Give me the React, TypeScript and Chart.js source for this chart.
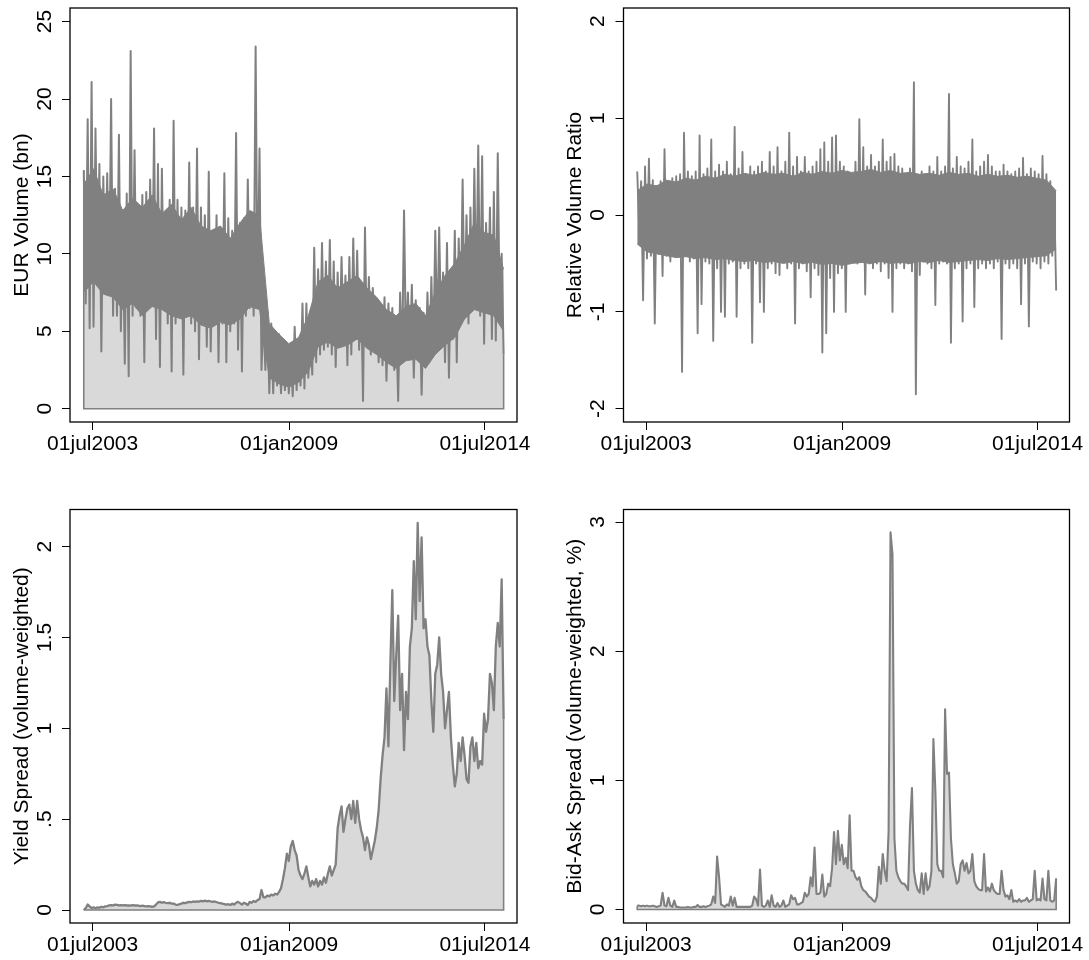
import React, { useEffect, useRef } from "react";
import { Chart, registerables } from "chart.js";

Chart.register(...registerables);

const FONT = "'Liberation Sans', Arial, Helvetica, sans-serif";

// ---- time axis ----
const SERIES_START = "2003-04-01";
const STEP_DAYS = 20;
const CORE_STEP_DAYS = 100;
const X_RANGE = ["2002-11-11", "2015-05-25"];
const X_TICK_DATES = ["2003-07-01", "2009-01-01", "2014-07-01"];
const X_TICK_LABELS = ["01jul2003", "01jan2009", "01jul2014"];

// ---- EUR Volume (bn): local highs / lows (every 40 days) ----
const volumeHigh = [
  15.4, 18.7, 21.1, 18.1, 15.8, 15.0, 15.2, 20.0, 14.2, 17.7,
  12.0, 13.9, 23.1, 16.7, 12.0, 13.8, 14.0, 14.8, 18.1, 15.8,
  15.5, 12.0, 13.5, 18.6, 13.5, 13.0, 12.8, 15.9, 13.0, 16.8,
  13.0, 12.5, 15.3, 11.0, 12.5, 11.0, 15.2, 12.3, 11.5, 17.8,
  12.0, 12.3, 14.8, 12.5, 23.4, 16.8,
  5.8, 6.3, 5.5, 5.0,
  4.8, 4.0, 3.8, 3.3, 5.3, 4.5, 6.8, 6.8, 5.5, 10.4,
  9.0, 10.7, 9.5, 10.9, 9.5, 8.8, 9.8, 8.6, 9.8, 11.0,
  10.2, 8.0, 11.7, 8.5, 7.8, 7.0, 6.5, 7.2, 6.8, 6.5,
  5.5, 7.5, 12.8, 7.5, 8.0, 7.0, 6.5, 6.2, 7.5, 8.5,
  11.5, 11.7, 8.8, 10.7, 9.0, 11.5, 11.0, 14.8, 12.5, 13.0,
  15.5, 17.0, 16.3, 12.0, 13.0, 14.0, 16.5, 10.0,
];
const volumeLow = [
  6.8, 5.2, 5.3, 8.0, 3.7, 8.2, 7.5, 6.0, 6.0, 5.0,
  2.9, 2.1, 6.0, 6.5, 6.0, 3.0, 6.5, 6.8, 4.5, 2.7,
  6.5, 5.5, 2.4, 5.5, 6.0, 2.2, 6.0, 5.5, 5.0, 3.2,
  6.0, 4.0, 3.7, 5.5, 3.0, 5.5, 3.0, 5.0, 5.5, 3.8,
  2.4, 6.0, 6.5, 6.0, 6.5, 2.5,
  2.5, 1.0, 1.0, 1.5,
  1.0, 1.2, 1.0, 0.8, 1.2, 1.5, 1.3, 2.0, 2.2, 3.0,
  3.5, 3.8, 4.0, 3.5, 2.7, 4.0, 4.5, 2.8, 3.5, 4.5,
  3.8, 0.5, 4.0, 3.5, 4.5, 3.0, 2.8, 1.8, 3.5, 2.5,
  0.5, 3.0, 4.0, 3.2, 2.0, 3.5, 0.9, 2.8, 3.0, 3.5,
  4.5, 5.0, 3.0, 2.0, 4.5, 3.0, 5.5, 6.0, 5.5, 6.5,
  7.0, 6.0, 4.2, 6.5, 4.5, 4.4, 6.0, 3.5,
];
// dense core of the daily EUR volume band (every 100 days)
const volumeCoreTop = [
  14.5, 15.5, 13.8, 14.2, 12.8, 13.6, 13.0, 13.8, 12.6, 13.2,
  12.2, 13.0, 11.8, 11.5, 11.8, 11.0, 12.0, 12.8, 12.5, 5.5,
  4.8, 4.2, 4.6, 6.0, 8.2, 8.6, 7.8, 8.2, 8.6, 7.8,
  7.2, 6.4, 6.0, 6.6, 6.8, 6.0, 7.5, 8.6, 9.4, 10.6,
  12.0, 11.4, 11.2, 9.0,
];
const volumeCoreBottom = [
  7.5, 8.2, 7.4, 7.2, 6.4, 6.8, 6.0, 6.6, 6.4, 6.0,
  5.8, 6.0, 5.4, 5.2, 5.6, 5.4, 5.8, 6.6, 6.4, 2.0,
  1.6, 1.4, 1.7, 2.4, 4.0, 4.3, 3.9, 4.1, 4.5, 3.9,
  3.5, 3.0, 2.6, 3.1, 3.2, 2.6, 3.5, 4.1, 4.6, 5.8,
  6.4, 6.2, 6.0, 5.0,
];

// ---- Relative Volume Ratio: local highs / lows (every 40 days) ----
const ratioHigh = [
  0.45, 0.35, 0.5, 0.58, 0.36, 0.3, 0.35, 0.68, 0.32, 0.38,
  0.4, 0.42, 0.85, 0.45, 0.4, 0.45, 0.82, 0.42, 0.48, 0.78,
  0.45, 0.52, 0.45, 0.55, 0.42, 0.91, 0.48, 0.65, 0.42, 0.5,
  0.45, 0.5, 0.55, 0.45, 0.65, 0.5, 0.7, 0.45, 0.55, 0.85,
  0.5, 0.6, 0.45, 0.6, 0.45, 0.5, 0.55, 0.68, 0.75, 0.55,
  0.8, 0.82, 0.55, 0.5, 0.45, 0.42, 0.55, 0.99, 0.7, 0.5,
  0.62, 0.5, 0.55, 0.78, 0.55, 0.6, 0.63, 0.5, 0.48, 0.42,
  0.48, 1.37, 0.4, 0.45, 0.42, 0.5, 0.45, 0.6, 0.45, 0.5,
  1.25, 0.48, 0.6, 0.5, 0.48, 0.55, 0.78, 0.45, 0.5, 0.55,
  0.62, 0.5, 0.45, 0.45, 0.52, 0.45, 0.42, 0.45, 0.48, 0.59,
  0.42, 0.48, 0.45, 0.42, 0.61, 0.42, 0.35, 0.2,
];
const ratioLow = [
  -0.15, -0.88, -0.45, -0.42, -1.12, -0.4, -0.63, -0.42, -0.48, -0.42,
  -0.4, -1.62, -0.42, -0.48, -0.45, -1.22, -0.92, -0.48, -0.5, -1.3,
  -0.55, -1.0, -1.05, -0.5, -0.48, -1.05, -0.55, -0.5, -0.55, -1.32,
  -0.5, -0.9, -1.0, -0.55, -0.5, -0.6, -0.62, -0.48, -0.55, -0.5,
  -1.12, -0.55, -0.5, -0.58, -0.85, -0.55, -0.62, -1.42, -1.22, -0.65,
  -1.0, -0.6, -0.55, -1.0, -0.5, -0.48, -0.5, -0.48, -0.82, -0.5,
  -0.55, -0.5, -0.58, -0.5, -0.65, -1.0, -0.55, -0.5, -0.55, -0.5,
  -0.58, -1.85, -0.62, -0.48, -0.5, -0.55, -0.93, -0.5, -0.48, -0.5,
  -1.32, -0.55, -0.5, -1.1, -0.55, -0.5, -0.95, -0.55, -0.5, -0.55,
  -0.5, -0.55, -0.48, -1.28, -0.5, -0.55, -0.5, -0.55, -0.92, -0.5,
  -1.15, -0.48, -0.5, -0.55, -0.48, -0.5, -0.42, -0.78,
];
// dense core of the daily ratio band (every 100 days)
const ratioCoreTop = [
  0.25, 0.32, 0.3, 0.36, 0.34, 0.38, 0.36, 0.4, 0.38, 0.42,
  0.4, 0.43, 0.41, 0.44, 0.42, 0.43, 0.4, 0.44, 0.42, 0.45,
  0.43, 0.46, 0.44, 0.45, 0.47, 0.44, 0.46, 0.43, 0.44, 0.42,
  0.43, 0.41, 0.44, 0.42, 0.43, 0.4, 0.42, 0.4, 0.41, 0.39,
  0.4, 0.38, 0.36, 0.25,
];
const ratioCoreBottom = [
  -0.3, -0.38, -0.4, -0.42, -0.44, -0.43, -0.45, -0.44, -0.46, -0.45,
  -0.47, -0.48, -0.47, -0.49, -0.48, -0.5, -0.48, -0.5, -0.49, -0.51,
  -0.5, -0.52, -0.5, -0.49, -0.5, -0.48, -0.5, -0.49, -0.5, -0.48,
  -0.49, -0.47, -0.49, -0.48, -0.47, -0.46, -0.47, -0.45, -0.46, -0.45,
  -0.44, -0.43, -0.42, -0.35,
];

// ---- Yield Spread (volume-weighted), every 20 days ----
const yieldSpread = [
  0.0, 0.01, 0.03, 0.02, 0.01, 0.015, 0.01, 0.015, 0.012, 0.018,
  0.015, 0.02, 0.022, 0.025, 0.027, 0.025, 0.03, 0.028, 0.025, 0.027,
  0.025, 0.027, 0.025, 0.026, 0.024, 0.027, 0.025, 0.026, 0.024, 0.022,
  0.024, 0.022, 0.02, 0.021, 0.02, 0.018, 0.02, 0.03, 0.042, 0.045,
  0.04, 0.043, 0.04, 0.038, 0.04, 0.035, 0.035, 0.03, 0.028, 0.032,
  0.035, 0.04, 0.038, 0.042, 0.045, 0.043, 0.047, 0.045, 0.048, 0.046,
  0.05, 0.048, 0.052, 0.048, 0.05, 0.047, 0.045, 0.047, 0.043, 0.04,
  0.038, 0.035, 0.033, 0.03, 0.032, 0.028, 0.035, 0.03, 0.04, 0.045,
  0.038, 0.03, 0.04, 0.035, 0.028, 0.045, 0.04, 0.05, 0.045, 0.055,
  0.06, 0.11, 0.07, 0.07, 0.08, 0.075, 0.085, 0.08, 0.09, 0.085,
  0.1, 0.12, 0.17, 0.23, 0.31, 0.27, 0.35, 0.38, 0.33, 0.3,
  0.22, 0.19, 0.17, 0.2, 0.24, 0.18, 0.13, 0.16, 0.14, 0.17,
  0.13, 0.16, 0.14, 0.18, 0.15, 0.2, 0.24, 0.19, 0.22, 0.25,
  0.45, 0.52, 0.57, 0.43, 0.5, 0.56, 0.58, 0.5, 0.6, 0.48,
  0.6, 0.5, 0.44, 0.4, 0.33, 0.4, 0.36, 0.28, 0.33, 0.38,
  0.45, 0.55, 0.72, 0.85, 0.95, 1.22, 0.9, 1.35, 1.76, 1.15,
  1.4, 1.62, 1.1, 1.3, 0.88, 1.2, 1.05, 1.45, 1.55, 1.92,
  1.6, 2.13, 1.7, 2.05, 1.55, 1.6, 1.45, 1.4, 1.15, 0.98,
  1.3, 1.35, 1.5, 1.3, 1.2, 1.0, 1.1, 1.2, 0.95, 0.8,
  0.68, 0.75, 0.92, 0.82, 0.95, 0.85, 0.72, 0.7, 0.9, 0.95,
  0.82, 0.92, 0.78, 0.82, 0.8, 1.08, 0.98, 1.05, 1.3, 1.25,
  1.1, 1.45, 1.58, 1.45, 1.82, 1.05,
];

// ---- Bid-Ask Spread (volume-weighted, %), every 20 days ----
const bidAsk = [
  0.03, 0.03, 0.025, 0.03, 0.025, 0.03, 0.025, 0.025, 0.03, 0.025,
  0.02, 0.025, 0.03, 0.13, 0.03, 0.025, 0.09, 0.03, 0.02, 0.07,
  0.02, 0.02, 0.015, 0.015, 0.015, 0.015, 0.02, 0.015, 0.015, 0.02,
  0.02, 0.035, 0.02, 0.02, 0.025, 0.02, 0.025, 0.03, 0.04, 0.1,
  0.05, 0.41, 0.25, 0.04, 0.03, 0.02, 0.04, 0.03, 0.1, 0.03,
  0.09, 0.02, 0.02, 0.02, 0.02, 0.02, 0.02, 0.02, 0.02, 0.03,
  0.1, 0.08, 0.03, 0.31, 0.03, 0.02, 0.03, 0.07, 0.02, 0.11,
  0.03, 0.02, 0.05, 0.02, 0.03, 0.07, 0.02, 0.03, 0.04, 0.11,
  0.08, 0.09, 0.04, 0.04, 0.05, 0.06, 0.13, 0.1, 0.12, 0.25,
  0.18, 0.48, 0.12, 0.12, 0.13, 0.27, 0.1, 0.12, 0.2, 0.18,
  0.32, 0.6, 0.35, 0.61, 0.38, 0.5, 0.35, 0.4, 0.32, 0.73,
  0.3, 0.3, 0.25, 0.23, 0.25, 0.18, 0.15, 0.14, 0.12, 0.1,
  0.09, 0.07, 0.06, 0.1, 0.33, 0.2, 0.43, 0.3, 0.22, 0.6,
  2.92, 2.75, 0.55, 0.3, 0.25, 0.22, 0.2, 0.2, 0.18, 0.15,
  0.65, 0.94, 0.3, 0.2, 0.15, 0.13, 0.28, 0.12, 0.28, 0.15,
  0.18, 0.3, 1.32, 0.92, 0.35, 0.3, 0.3, 0.25, 1.55, 1.05,
  1.06, 0.55, 0.35, 0.28, 0.2, 0.22, 0.35, 0.38, 0.3, 0.36,
  0.28, 0.3, 0.43, 0.22, 0.18, 0.16, 0.15, 0.15, 0.43, 0.14,
  0.17, 0.14, 0.2, 0.15, 0.13, 0.12, 0.12, 0.3, 0.15, 0.1,
  0.11, 0.08, 0.15, 0.06, 0.07, 0.06, 0.08, 0.06, 0.07, 0.07,
  0.09, 0.06, 0.07, 0.08, 0.3, 0.07, 0.08, 0.07, 0.24, 0.08,
  0.07, 0.3, 0.07, 0.06, 0.07, 0.24,
];

// ---- y-axis ticks ----
const volumeTicks = [0, 5, 10, 15, 20, 25];
const volumeTickLabels = ["0", "5", "10", "15", "20", "25"];
const ratioTicks = [-2, -1, 0, 1, 2];
const ratioTickLabels = ["-2", "-1", "0", "1", "2"];
const yieldTicks = [0, 0.5, 1, 1.5, 2];
const yieldTickLabels = ["0", ".5", "1", "1.5", "2"];
const bidAskTicks = [0, 1, 2, 3];
const bidAskTickLabels = ["0", "1", "2", "3"];

const dayOf = (iso: string) => Math.round(Date.parse(iso + "T00:00:00Z") / 86400000);
const zigzag = (hi: number[], lo: number[]) => hi.flatMap((h, k) => [h, lo[k]]);

type PanelCfg = {
  x: number; y: number; w: number; h: number;
  plot: { l: number; t: number; r: number; b: number };
  yMin: number; yMax: number;
  yTicks: number[]; yLabels: string[];
  title: string; values: number[]; filled: boolean; lineWidth: number;
  core?: { top: number[]; bottom: number[] };
};

const PANELS: PanelCfg[] = [
  {
    x: 0, y: 0, w: 545, h: 480, plot: { l: 70, t: 8, r: 517, b: 422 },
    yMin: -0.86, yMax: 25.88, yTicks: volumeTicks, yLabels: volumeTickLabels,
    title: "EUR Volume (bn)", values: zigzag(volumeHigh, volumeLow), filled: true, lineWidth: 2,
    core: { top: volumeCoreTop, bottom: volumeCoreBottom },
  },
  {
    x: 545, y: 0, w: 544, h: 480, plot: { l: 78.5, t: 8, r: 524.5, b: 422 },
    yMin: -2.137, yMax: 2.137, yTicks: ratioTicks, yLabels: ratioTickLabels,
    title: "Relative Volume Ratio", values: zigzag(ratioHigh, ratioLow), filled: false, lineWidth: 1.9,
    core: { top: ratioCoreTop, bottom: ratioCoreBottom },
  },
  {
    x: 0, y: 480, w: 545, h: 480, plot: { l: 70, t: 29.5, r: 517, b: 443 },
    yMin: -0.0714, yMax: 2.204, yTicks: yieldTicks, yLabels: yieldTickLabels,
    title: "Yield Spread (volume-weighted)", values: yieldSpread, filled: true, lineWidth: 2.3,
  },
  {
    x: 545, y: 480, w: 544, h: 480, plot: { l: 78.5, t: 29.5, r: 524.5, b: 443 },
    yMin: -0.1045, yMax: 3.097, yTicks: bidAskTicks, yLabels: bidAskTickLabels,
    title: "Bid-Ask Spread (volume-weighted, %)", values: bidAsk, filled: true, lineWidth: 2.1,
  },
];

const LINE = "#808080";
const FILL = "#d9d9d9";

function Panel({ cfg }: { cfg: PanelCfg }) {
  const ref = useRef<HTMLCanvasElement | null>(null);
  useEffect(() => {
    const canvas = ref.current;
    if (!canvas) return;
    const start = dayOf(SERIES_START);
    const days = cfg.values.map((_, i) => start + i * STEP_DAYS);
    const pts = cfg.values.map((v, i) => ({ x: days[i], y: v }));
    const n = pts.length;
    const datasets: any[] = [];
    // index 0: outline of the shaded area (drawn last, on top)
    if (cfg.filled) {
      datasets.push({
        data: [
          { x: days[0], y: cfg.values[0] },
          { x: days[0], y: 0 },
          { x: days[n - 1], y: 0 },
          { x: days[n - 1], y: cfg.values[n - 1] },
        ],
        borderColor: LINE, borderWidth: 1.6, pointRadius: 0, fill: false, tension: 0,
      });
    }
    // dense core of a daily band
    if (cfg.core) {
      const coreDays = cfg.core.top.map((_, j) => start + j * CORE_STEP_DAYS);
      datasets.push({
        data: cfg.core.top.map((v, j) => ({ x: coreDays[j], y: v })),
        borderColor: LINE, borderWidth: 1, pointRadius: 0, tension: 0,
        fill: "+1", backgroundColor: LINE,
      });
      datasets.push({
        data: cfg.core.bottom.map((v, j) => ({ x: coreDays[j], y: v })),
        borderColor: LINE, borderWidth: 1, pointRadius: 0, tension: 0, fill: false,
      });
    }
    // the series itself (drawn first)
    datasets.push({
      data: pts,
      borderColor: LINE,
      borderWidth: cfg.lineWidth,
      pointRadius: 0,
      tension: 0,
      borderJoinStyle: "round",
      fill: cfg.filled ? "origin" : false,
      backgroundColor: FILL,
    });

    const decor = {
      id: "decor",
      afterDatasetsDraw(chart: any) {
        const { ctx, chartArea: a } = chart;
        ctx.save();
        ctx.strokeStyle = "#000";
        ctx.lineWidth = 1.3;
        ctx.strokeRect(a.left, a.top, a.right - a.left, a.bottom - a.top);
        ctx.restore();
      },
      afterDraw(chart: any) {
        const { ctx, chartArea: a, scales } = chart;
        ctx.save();
        ctx.fillStyle = "#000";
        ctx.font = `21px ${FONT}`;
        ctx.textAlign = "center";
        ctx.textBaseline = "alphabetic";
        cfg.yTicks.forEach((v, i) => {
          const py = scales.y.getPixelForValue(v);
          ctx.save();
          ctx.translate(a.left - 19.3, py);
          ctx.rotate(-Math.PI / 2);
          ctx.fillText(cfg.yLabels[i], 0, 0);
          ctx.restore();
        });
        ctx.save();
        ctx.translate(a.left - 42.5, (a.top + a.bottom) / 2);
        ctx.rotate(-Math.PI / 2);
        ctx.fillText(cfg.title, 0, 0);
        ctx.restore();
        ctx.restore();
      },
    };

    const gridOpts = {
      display: true,
      drawOnChartArea: false,
      drawTicks: true,
      tickLength: 8,
      color: "#000",
      lineWidth: 1,
    };

    const chart = new Chart(canvas, {
      type: "line",
      data: { datasets },
      options: {
        animation: false,
        responsive: false,
        devicePixelRatio: 1,
        events: [],
        layout: {
          padding: { left: 0, top: cfg.plot.t, right: cfg.w - cfg.plot.r, bottom: 0 },
        },
        plugins: { legend: { display: false }, tooltip: { enabled: false } },
        scales: {
          x: {
            type: "linear",
            bounds: "data",
            min: dayOf(X_RANGE[0]),
            max: dayOf(X_RANGE[1]),
            afterFit: (s: any) => { s.height = cfg.h - cfg.plot.b; },
            afterBuildTicks: (s: any) => { s.ticks = X_TICK_DATES.map((d) => ({ value: dayOf(d) })); },
            ticks: {
              callback: (_v: any, i: number) => X_TICK_LABELS[i],
              color: "#000",
              font: { size: 21, family: FONT },
              padding: 2,
              autoSkip: false,
              maxRotation: 0,
              minRotation: 0,
            },
            grid: gridOpts,
            border: { display: false },
          },
          y: {
            type: "linear",
            bounds: "data",
            min: cfg.yMin,
            max: cfg.yMax,
            afterFit: (s: any) => { s.width = cfg.plot.l; },
            afterBuildTicks: (s: any) => { s.ticks = cfg.yTicks.map((v) => ({ value: v })); },
            ticks: { display: false },
            grid: gridOpts,
            border: { display: false },
          },
        },
      } as any,
      plugins: [decor],
    });
    return () => chart.destroy();
  }, [cfg]);
  return (
    <canvas
      ref={ref}
      width={cfg.w}
      height={cfg.h}
      style={{ position: "absolute", left: cfg.x, top: cfg.y, width: cfg.w, height: cfg.h }}
    />
  );
}

export default function App() {
  return (
    <div style={{ position: "absolute", left: 0, top: 0, width: 1089, height: 960, background: "#fff" }}>
      {PANELS.map((p, i) => (
        <Panel key={i} cfg={p} />
      ))}
    </div>
  );
}
